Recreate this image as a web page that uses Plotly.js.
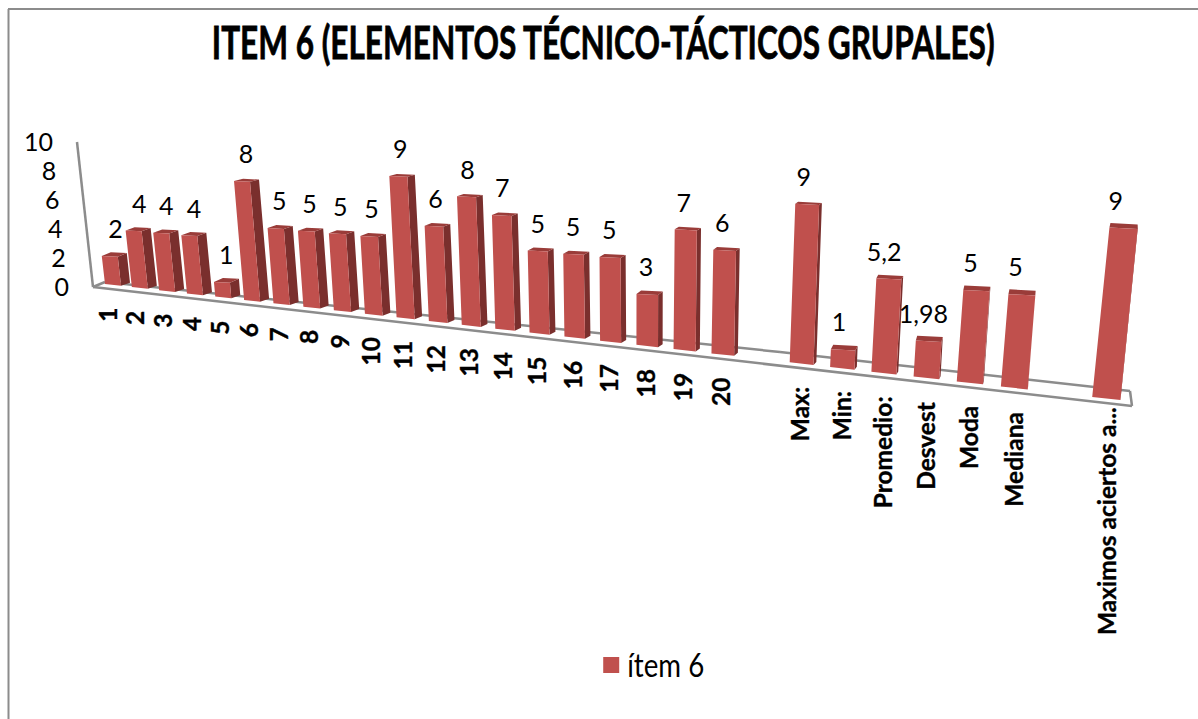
<!DOCTYPE html>
<html><head><meta charset="utf-8">
<script src="https://cdn.plot.ly/plotly-3.0.1.min.js"></script>
<style>html,body{margin:0;padding:0;background:#fff}#c{width:1198px;height:719px}
.annotation-text{stroke:#000;stroke-width:.35px}
.gtitle{stroke:#000;stroke-width:.8px}
</style>
</head><body><div id="c"></div>
<script>
const categories = ['1','2','3','4','5','6','7','8','9','10','11','12','13','14','15','16','17','18','19','20','',
  'Max:','Min:','Promedio:','Desvest','Moda','Mediana','','Maximos aciertos a...'];
const values = [2,4,4,4,1,8,5,5,5,5,9,6,8,7,5,5,5,3,7,6,null,9,1,5.2,1.98,5,5,null,9];
const yTicks = [0,2,4,6,8,10];
const seriesName = 'ítem 6';
const chartTitle = 'ITEM 6 (ELEMENTOS TÉCNICO-TÁCTICOS GRUPALES)';

// Perspective of the tilted 3-D view: maps slot + value to the screen plane
const slotX = i => 105 + 26.6 * i / (1 - 0.00877 * i);
const floorY = x => 284 + 0.1144 * (x - 105);
const unitH = i => 14 + 0.172 * i;
const lean = x => (x - 630) * 0.00022;
const barW = x => 16 + Math.max(0, x - 250) * 0.0145;
const sideW = x => Math.min(9, Math.max(0, 9 * (1030 - x) / 770));
const topD = (x, v) => 2 + Math.max(0, x - 790) * 0.0085 + (9 - v) * 0.25;

const fx = [], fy = [], sx = [], sy = [], tx = [], ty = [], lx = [], ly = [], lt = [], hov = [];
const annotations = [];
categories.forEach((cat, i) => {
  const X = slotX(i), Y = floorY(X), w = barW(X), s = sideW(X);
  if (values[i] !== null) {
    const h = values[i] * unitH(i), dx = lean(X) * h;
    const BL = [X, Y], BR = [X + w, Y + w * 0.11];
    const TL = [X + dx, Y - h], TR = [X + w + dx, Y - h + w * 0.05];
    const d = topD(X, values[i]);
    const BB = [BR[0] + s, BR[1] - 3], TB = [TR[0] + s, TR[1] - d], TBL = [TL[0] + Math.max(s, 1), TL[1] - d];
    const push = (ax, ay, pts) => { pts.forEach(p => { ax.push(p[0]); ay.push(p[1]); }); ax.push(null); ay.push(null); };
    push(fx, fy, [BL, BR, TR, TL, BL]);
    push(sx, sy, [BR, BB, TB, TR, BR]);
    push(tx, ty, [TL, TR, TB, TBL, TL]);
    const cx = (TL[0] + TR[0]) / 2;
    lx.push(cx + 6 - (cx - 100) * 0.0135);
    ly.push(TL[1] - 24);
    lt.push(String(values[i]).replace('.', ','));
    hov.push(cat + ': ' + lt[lt.length - 1]);
  }
  if (cat) {
    annotations.push({
      xref: 'x', yref: 'y', x: X + 3 + (X - 105) * 0.011,
      y: Y + w * 0.11 + (cat.length > 15 ? 5 : 20),
      text: '<b>' + cat + '</b>', textangle: -90, showarrow: false, xanchor: 'center', yanchor: 'top',
      font: {family: 'Lato', size: 24.5, color: '#000'}
    });
  }
});

const poly = (x, y, color) => ({x, y, type: 'scatter', mode: 'none', fill: 'toself', fillcolor: color,
  hoverinfo: 'skip', showlegend: false, cliponaxis: false});

const traces = [
  poly(sx, sy, '#7A2F2D'),
  poly(tx, ty, '#9A3C39'),
  poly(fx, fy, '#C0504D'),
  {x: lx, y: ly, text: lt, hovertext: hov, hoverinfo: 'text', type: 'scatter', mode: 'text', textposition: 'middle center',
   textfont: {family: 'Lato', size: 25, color: '#000'}, showlegend: false, cliponaxis: false},
  {x: yTicks.map(v => 69 - v * 1.6), y: yTicks.map(v => 290 - v * 14.5), text: yTicks.map(String), type: 'scatter', mode: 'text',
   textposition: 'middle left', textfont: {family: 'Lato', size: 25, color: '#000'}, showlegend: false, hoverinfo: 'skip', cliponaxis: false},
  {x: [null], y: [null], type: 'scatter', mode: 'markers', name: seriesName,
   marker: {symbol: 'square', size: 20, color: '#C0504D'}}
];

const grey = {color: '#8C8C8C', width: 2.5};
const seg = (x0, y0, x1, y1, line) => ({type: 'line', xref: 'x', yref: 'y', x0, y0, x1, y1, line, layer: 'below'});
const layout = {
  width: 1198, height: 719,
  margin: {l: 0, r: 0, t: 0, b: 0},
  paper_bgcolor: '#fff', plot_bgcolor: '#fff',
  title: {text: '<b>' + chartTitle + '</b>', x: 0.5035, xanchor: 'center', y: 0.94, yanchor: 'middle',
          font: {family: 'Lato', size: 46, color: '#000'}},
  xaxis: {range: [0, 1198], visible: false, fixedrange: true},
  yaxis: {range: [719, 0], visible: false, fixedrange: true},
  showlegend: true,
  legend: {x: 0.4935, xanchor: 'left', y: 0.075, yanchor: 'middle', font: {family: 'Lato', size: 32, color: '#000'},
           bgcolor: 'rgba(0,0,0,0)'},
  annotations,
  shapes: [
    seg(8.5, 9, 8.5, 719, {color: '#8C8C8C', width: 2}),
    seg(8, 9, 1198, 9, {color: '#8C8C8C', width: 2}),
    seg(93, 287, 77, 142, grey),
    seg(93, 287, 1132, 406, grey),
    seg(93, 287, 105, 282, grey),
    seg(105, 282, 780, 352, grey),
    seg(780, 352, 1130, 391, grey),
    seg(1130, 391, 1132, 406, grey)
  ]
};
Plotly.newPlot('c', traces, layout, {displayModeBar: false, responsive: false}).then(() => {
  // The reference's title and legend face is a narrow one: condense the real text to the same extent
  const squeeze = (el, width, origin, shift) => {
    const box = el.getBBox();
    el.style.transformBox = 'fill-box';
    el.style.transformOrigin = origin;
    el.style.transform = `translateX(${shift}px) scaleX(${width / box.width})`;
  };
  const t = document.querySelector('.gtitle');
  if (t) squeeze(t, 783, 'center', 0);
  const l = document.querySelector('.legendtext');
  if (l) squeeze(l, 77, 'left center', -4);
});
</script></body></html>
